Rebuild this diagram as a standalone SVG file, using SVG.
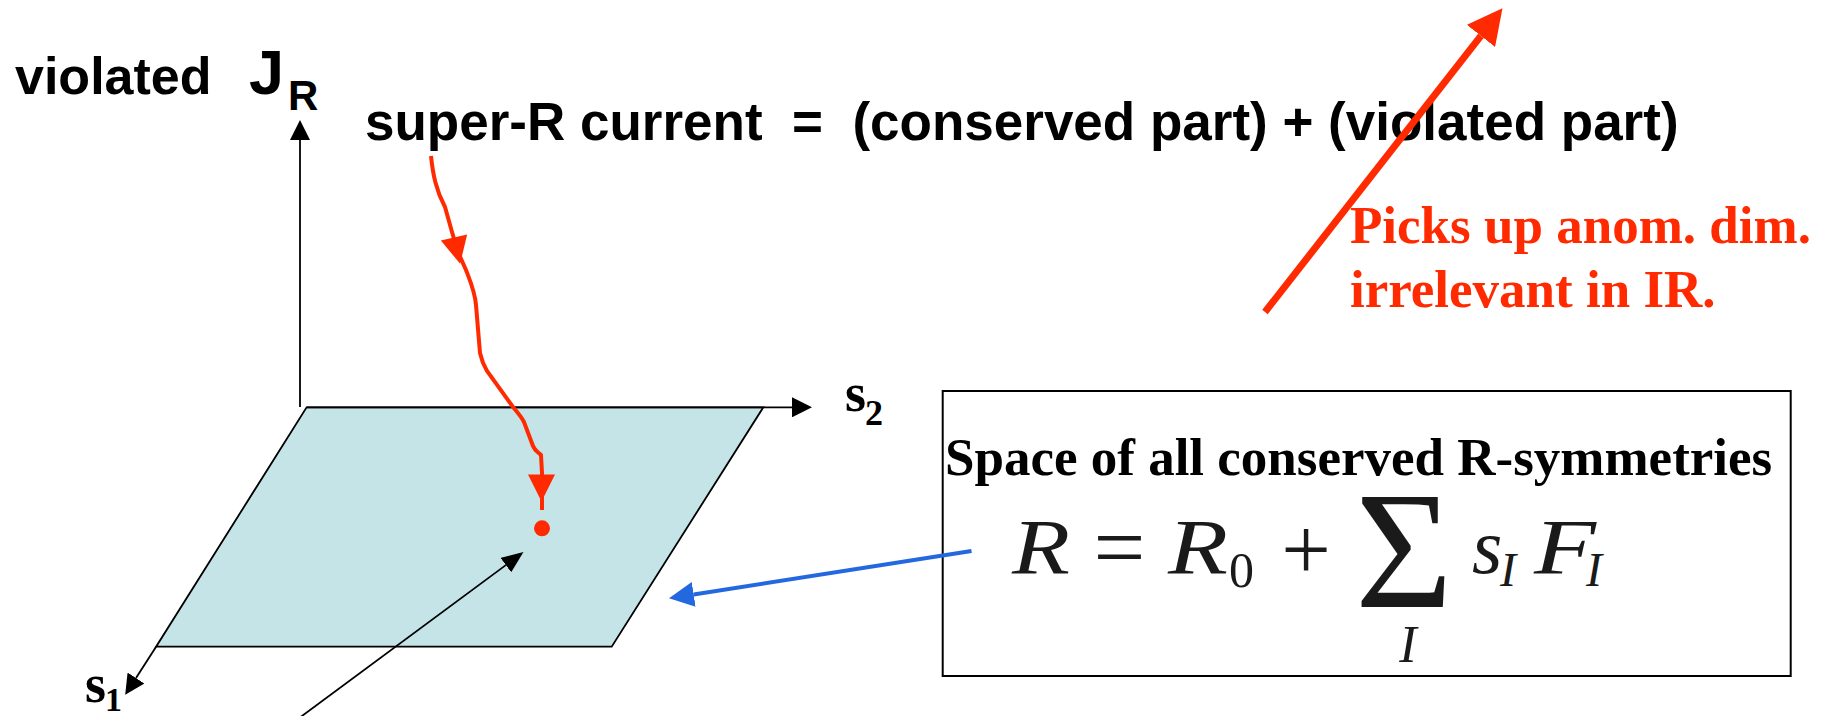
<svg xmlns="http://www.w3.org/2000/svg" width="1834" height="716" viewBox="0 0 1834 716">
<style>
.sans{font-family:"Liberation Sans",Arial,Helvetica,sans-serif;font-weight:bold;fill:#000}
.serb{font-family:"Liberation Serif","Times New Roman",serif;font-weight:bold}
.math{font-family:"Liberation Serif","Times New Roman",serif;fill:#1a1a1a}
.it{font-style:italic}
.red{fill:#ff2a00}
.ax{stroke:#000;stroke-width:1.8;fill:none}
</style>
<defs>
<marker id="hAx" viewBox="0 0 20 20" markerWidth="20" markerHeight="20" refX="0" refY="10" orient="auto" markerUnits="userSpaceOnUse"><path d="M0,0 L20,10 L0,20 z" fill="#000"/></marker>
<marker id="hPt" viewBox="0 0 22 18" markerWidth="22" markerHeight="18" refX="0" refY="9" orient="auto" markerUnits="userSpaceOnUse"><path d="M0,0 L22,9 L0,18 z" fill="#000"/></marker>
<marker id="hBlue" viewBox="0 0 25 25" markerWidth="25" markerHeight="25" refX="0" refY="12.5" orient="auto" markerUnits="userSpaceOnUse"><path d="M0,0 L25,12.5 L0,25 z" fill="#2468e0"/></marker>
<marker id="hRedBig" viewBox="0 0 35 36" markerWidth="35" markerHeight="36" refX="0" refY="18" orient="auto" markerUnits="userSpaceOnUse"><path d="M0,0 L35,18 L0,36 z" fill="#ff2a00"/></marker>
<path id="redHead" d="M0,-13.5 L27,0 L0,13.5 z" fill="#ff2a00"/>
</defs>

<g id="plane">
<polygon points="306.6,407.3 763.3,407.3 611.7,646.7 156.1,646.7" fill="#c4e4e8" stroke="#000" stroke-width="1.8"/>
</g>

<g id="label-violated-JR">
<text class="sans" x="15" y="94" font-size="52">violated</text>
<text class="sans" x="249" y="94" font-size="63">J</text>
<text class="sans" x="288" y="110" font-size="42">R</text>
</g>

<g id="label-equation">
<text class="sans" x="365" y="140" font-size="53" xml:space="preserve">super-R current  =  (conserved part) + (violated part)</text>
</g>

<g id="label-s2">
<text class="serb" x="845" y="411" font-size="54">s</text>
<text class="serb" x="865" y="425" font-size="36">2</text>
</g>
<g id="label-s1">
<text class="serb" x="85" y="702" font-size="54">s</text>
<text class="serb" x="105" y="711" font-size="34">1</text>
</g>

<g id="note-anom">
<text class="serb red" x="1350" y="243" font-size="53">Picks up anom. dim.</text>
<text class="serb red" x="1350" y="307" font-size="53">irrelevant in IR.</text>
</g>

<g id="box-space">
<rect x="942.7" y="391" width="848" height="285" fill="#fff" stroke="#000" stroke-width="2"/>
<text class="serb" x="945" y="475" font-size="53">Space of all conserved R-symmetries</text>
<text class="math it" x="1012" y="573" font-size="78" textLength="58" lengthAdjust="spacingAndGlyphs">R</text>
<text class="math" x="1119.5" y="578" font-size="92" text-anchor="middle">=</text>
<text class="math it" x="1168" y="573" font-size="78" textLength="60" lengthAdjust="spacingAndGlyphs">R</text>
<text class="math" x="1229" y="587" font-size="50">0</text>
<text class="math" x="1306" y="579" font-size="88" text-anchor="middle">+</text>
<text class="math" x="1404" y="607" font-size="168" text-anchor="middle">Σ</text>
<text class="math it" x="1408" y="662" font-size="52" text-anchor="middle">I</text>
<text class="math it" x="1472" y="573" font-size="78">s</text>
<text class="math it" x="1500" y="586" font-size="48">I</text>
<text class="math it" x="1534" y="573" font-size="78" textLength="62" lengthAdjust="spacingAndGlyphs">F</text>
<text class="math it" x="1586" y="586" font-size="48">I</text>
</g>

<g id="dot">
<circle cx="542" cy="528.3" r="8" fill="#ff2a00"/>
</g>

<g id="connectors">
<line class="ax" x1="300" y1="407" x2="300" y2="140" marker-end="url(#hAx)"/>
<line class="ax" x1="306.6" y1="407.3" x2="792" y2="407.3" marker-end="url(#hAx)"/>
<line class="ax" x1="156.1" y1="646.7" x2="136" y2="678" marker-end="url(#hAx)"/>
<line class="ax" x1="296" y1="720.4" x2="505.8" y2="565.1" marker-end="url(#hPt)"/>
<line x1="971.5" y1="551" x2="693.7" y2="594.4" stroke="#2468e0" stroke-width="4" marker-end="url(#hBlue)"/>
<line x1="1265" y1="312" x2="1480.9" y2="35.9" stroke="#ff2a00" stroke-width="7" marker-end="url(#hRedBig)"/>
<path d="M431,156 C433,175 436,190 445,207 L452,232 L458,252 L466,270 C471,283 475,292 476,305 L480,353 C482,362 484,366 487,371 L513,407 C519,414 522,418 524,422 L533,446 C535,451 538,452 541,455 L542,473 L542,510" fill="none" stroke="#ff2a00" stroke-width="4"/>
<use href="#redHead" transform="translate(454,237.5) rotate(76.9)"/>
<use href="#redHead" transform="translate(541.5,474.5) rotate(90)"/>
</g>
</svg>
